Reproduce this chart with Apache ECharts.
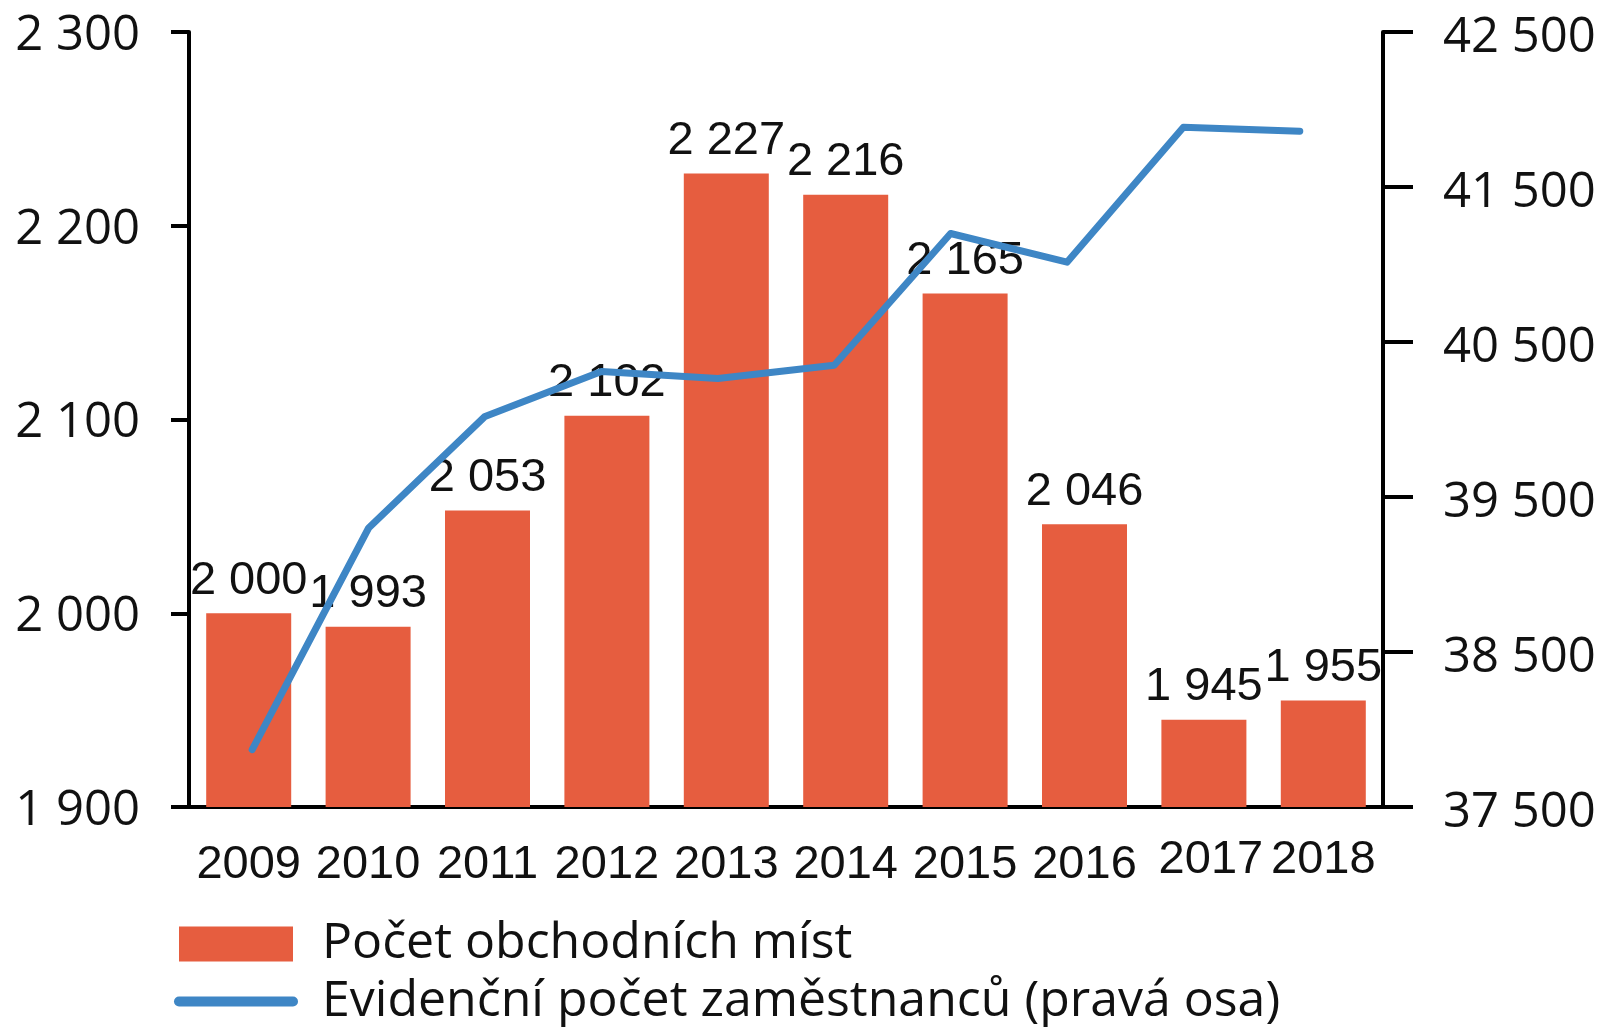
<!DOCTYPE html>
<html>
<head>
<meta charset="utf-8">
<script src="https://cdn.jsdelivr.net/npm/echarts@6/dist/echarts.min.js"></script>
<style>
  html, body { margin: 0; padding: 0; background: #fff; }
  #chart_1 { width: 1604px; height: 1027px; }
</style>
</head>
<body>
<div id="chart_1"></div>
<script>
var years = ['2009','2010','2011','2012','2013','2014','2015','2016','2017','2018'];
var pocetMist = [2000, 1993, 2053, 2102, 2227, 2216, 2165, 2046, 1945, 1955];
var pocetZam = [37870, 39300, 40020, 40310, 40265, 40350, 41200, 41015, 41885, 41860];
var leftTicks = [1900, 2300, 100];     // min, max, interval
var rightTicks = [37500, 42500, 1000];
var nameBar = 'Počet obchodních míst';
var nameLine = 'Evidenční počet zaměstnanců (pravá osa)';

function mezera(v){           // tisíce oddělené mezerou
    return String(v).replace(/\B(?=(\d{3})+(?!\d))/g, ' ');
}

var narrow = "'Liberation Sans', Arial, sans-serif";
var regular = "'Open Sans', 'Noto Sans', sans-serif";

// popisky let: 2017 a 2018 jsou v originale trochu vys
var yearLabels = years.map(function(y){
    if (y === '2017') return { value: y, textStyle: { lineHeight: 31, padding: [0, 0, 0, 14] } };
    if (y === '2018') return { value: y, textStyle: { lineHeight: 31 } };
    return y;
});

var myChart1 = echarts.init(document.getElementById('chart_1'), null, {renderer: 'canvas'});
var option1 = {
    backgroundColor: '#fff',
    animation: false,
    legend: {
        orient: 'vertical',
        left: 174,
        top: 917,
        height: 300,
        padding: 0,
        itemWidth: 114,
        itemHeight: 35,
        itemGap: 2,
        textStyle: { fontFamily: regular, fontSize: 50, lineHeight: 50, color: '#111' },
        data: [
            { name: nameBar, icon: 'rect', textStyle: { padding: [4, 0, 0, 24] } },
            { name: nameLine, itemStyle: { opacity: 0 }, lineStyle: { width: 10, cap: 'round' },
              textStyle: { padding: [0, 0, 7, 24] } }
        ]
    },
    grid: [
        { left: 189, right: 221, top: 32, height: 775 },
        { left: 194, right: 246, top: 32, height: 775 }
    ],
    xAxis: [
        {
            type: 'category',
            gridIndex: 0,
            data: yearLabels,
            axisLine: { lineStyle: { color: '#000', width: 4 } },
            axisTick: { show: false },
            axisLabel: { fontFamily: narrow, fontSize: 47, lineHeight: 40, color: '#111', margin: 38, interval: 0 }
        },
        {
            type: 'category',
            gridIndex: 1,
            data: years,
            show: false
        }
    ],
    yAxis: [
        {
            type: 'value',
            gridIndex: 0,
            position: 'left',
            min: leftTicks[0], max: leftTicks[1], interval: leftTicks[2],
            splitLine: { show: false },
            axisLine: { show: true, lineStyle: { color: '#000', width: 4 } },
            axisTick: { show: true, length: 18, lineStyle: { color: '#000', width: 4 } },
            axisLabel: { fontFamily: regular, fontSize: 49, color: '#111', margin: 49,
                         verticalAlign: 'top', lineHeight: 8, formatter: mezera }
        },
        {
            type: 'value',
            gridIndex: 0,
            position: 'right',
            min: rightTicks[0], max: rightTicks[1], interval: rightTicks[2],
            splitLine: { show: false },
            axisLine: { show: true, lineStyle: { color: '#000', width: 4 } },
            axisTick: { show: true, length: 30, lineStyle: { color: '#000', width: 4 } },
            axisLabel: { fontFamily: regular, fontSize: 49, color: '#111', margin: 60,
                         verticalAlign: 'top', lineHeight: 13, formatter: mezera }
        },
        {
            type: 'value',
            gridIndex: 1,
            min: rightTicks[0], max: rightTicks[1],
            show: false
        }
    ],
    series: [
        {
            name: nameBar,
            type: 'bar',
            xAxisIndex: 0,
            yAxisIndex: 0,
            barWidth: 85,
            itemStyle: { color: '#e65d3f' },
            label: {
                show: true,
                position: 'top',
                distance: 9,
                fontFamily: narrow,
                fontSize: 47,
                color: '#111',
                formatter: function(p){ return mezera(p.value); }
            },
            data: pocetMist
        },
        {
            name: nameLine,
            type: 'line',
            xAxisIndex: 1,
            yAxisIndex: 2,
            symbol: 'none',
            itemStyle: { color: '#3e86c5' },
            lineStyle: { color: '#3e86c5', width: 7, cap: 'round', join: 'round' },
            data: pocetZam
        }
    ]
};
myChart1.setOption(option1);
</script>
</body>
</html>
